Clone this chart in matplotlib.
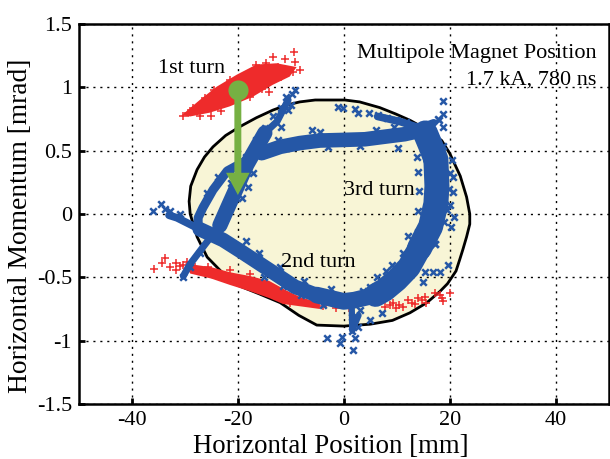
import matplotlib
matplotlib.use("Agg")
import matplotlib.pyplot as plt

plt.rcParams["font.family"] = ["Liberation Serif", "DejaVu Serif"]
plt.rcParams["axes.unicode_minus"] = False

# acceptance contour
contour_x = [-2.6, 0.2, 3.0, 6.8, 9.8, 12.5, 16.0, 18.5, 20.0, 22.0, 23.2, 23.8, 23.8, 23.2, 22.5, 21.9, 21.2, 19.6, 18.2, 15.7,
             12.5, 9.2, 5.0, 0.0, -5.1, -8.5, -12.0, -16.0, -20.2, -23.0, -25.8, -27.7, -29.0, -29.2, -28.9, -27.7,
             -26.3, -24.7, -22.3, -19.6, -16.5, -13.4, -10.8, -8.3, -5.4]
contour_y = [0.90, 0.90, 0.885, 0.84, 0.79, 0.74, 0.66, 0.58, 0.48, 0.30, 0.134, 0.0, -0.08, -0.18, -0.28, -0.36, -0.45, -0.55, -0.61, -0.70,
             -0.78, -0.84, -0.87, -0.885, -0.877, -0.80, -0.70, -0.63, -0.56, -0.46, -0.34, -0.18, 0.0, 0.10, 0.22, 0.35,
             0.45, 0.53, 0.62, 0.69, 0.76, 0.82, 0.86, 0.885, 0.90]

# first turn, dense core and stragglers
red1_core_x = [-30.6, -27.2, -24.0, -20.2, -16.5, -12.7, -8.9, -10.2, -13.4, -17.2, -21.5, -25.3, -29.0]
red1_core_y = [0.78, 0.90, 1.005, 1.10, 1.18, 1.19, 1.16, 1.085, 1.02, 0.925, 0.85, 0.80, 0.77]
red1_x = [-9.4, -13.4, -11.1, -9.2, -8.3, -9.6, -11.8, -14.1, -15.5, -17.7, -23.1, -25.0, -27.2, -30.4, -28.4, -26.2,
          -21.5, -16.5, -14.6, -29.5, -24.5, -12.5]
red1_y = [1.28, 1.24, 1.22, 1.20, 1.14, 1.12, 1.085, 0.966, 0.99, 0.92, 0.81, 0.775, 0.775, 0.775, 0.84, 0.915,
          1.06, 1.18, 1.19, 0.80, 0.98, 1.16]

# second pass red, band along the lower edge
red2_core_x = [-30.0, -25.0, -21.5, -17.7, -14.0, -11.0, -8.0, -4.5, -4.5, -8.0, -11.5, -14.0, -17.7, -21.5, -25.0, -29.0]
red2_core_y = [-0.39, -0.42, -0.46, -0.49, -0.53, -0.60, -0.66, -0.70, -0.75, -0.73, -0.71, -0.665, -0.61, -0.56, -0.51, -0.47]
red2_x = [-35.8, -34.4, -33.8, -32.8, -31.6, -31.6, -30.4, -29.0, -28.1, -25.6, -21.5, -17.7, -10.2, -31.0, -29.6,
          -4.0, -1.5, 1.0, 7.7, 8.7, 9.9, 11.2, 12.2, 13.4, 14.0, 15.3, 15.6, 17.2, 18.5, 18.7, 20.0, 18.1, 9.3, 10.5, 12.8, 14.7]
red2_y = [-0.435, -0.39, -0.345, -0.42, -0.39, -0.44, -0.40, -0.43, -0.42, -0.42, -0.44, -0.47, -0.705, -0.41, -0.38,
          -0.73, -0.74, -0.74, -0.735, -0.72, -0.74, -0.735, -0.68, -0.71, -0.665, -0.655, -0.70, -0.625, -0.665, -0.69, -0.625, -0.64, -0.705, -0.715, -0.70, -0.68]

# blue bands, centre lines of the dense beam
band_top_x = [-10.5, -12.6, -14.9]
band_top_y = [0.90, 0.73, 0.64]
band_a_x = [-14.9, -18.3, -20.2, -21.7, -23.4]
band_a_y = [0.64, 0.39, 0.21, 0.07, -0.09]
band_h_x = [-23.4, -26.2, -29.1, -30.3]
band_h_y = [-0.09, -0.24, -0.40, -0.49]
band_b_x = [-18.5, -22.0, -24.7, -26.6, -27.5, -27.5]
band_b_y = [0.42, 0.34, 0.19, 0.05, -0.03, -0.12]
band_c_x = [-15.5, -12.0, -8.3, -4.5, 0.0, 4.0, 7.7, 11.5, 14.7]
band_c_y = [0.48, 0.53, 0.56, 0.58, 0.585, 0.59, 0.61, 0.63, 0.66]
band_u_x = [6.4, 10.6, 14.3, 17.0]
band_u_y = [0.77, 0.73, 0.68, 0.72]
band_d_x = [15.4, 16.6, 17.4, 17.6, 17.4, 16.4, 14.3]
band_d_y = [0.64, 0.52, 0.43, 0.22, 0.08, -0.10, -0.27]
band_e_x = [14.3, 12.3, 10.0, 7.7, 6.0]
band_e_y = [-0.27, -0.42, -0.52, -0.60, -0.64]
band_f_x = [6.0, 2.0, 0.0, -5.1]
band_f_y = [-0.64, -0.68, -0.69, -0.64]
band_i_x = [-5.1, -9.2, -13.4, -19.6, -22.8, -27.2]
band_i_y = [-0.64, -0.575, -0.46, -0.29, -0.205, -0.12]
band_g_x = [-27.2, -31.5, -33.0]
band_g_y = [-0.12, -0.03, -0.01]
band_s_x = [1.5, 1.6, 2.8]
band_s_y = [-0.72, -0.92, -0.80]

# blue scattered particles read around the bands
blue_x = [-1.1, -0.2, 2.1, 2.7, 4.8, 6.5, 8.1, 9.9, 11.8, 18.8, 18.8, 17.8, 18.8, 18.8, 20.4, 20.6, 20.6, 20.0, 20.9, 19.0,
          17.2, -4.5, 10.2, 19.6, 17.2, 16.8, 18.1, 15.3, 14.9, 4.9, -3.2, -0.4, -0.75, 1.7, 2.1, 1.5, 1.5, 3.0, 2.6, 7.2, 4.9,
          -9.2, -9.8, -11.0, -10.0, -36.0, -34.6, -33.8, -32.8, -31.0,
          -11.8, -13.4, -14.9, -16.5, -18.4, -21.5, -23.8, -25.9, -10.6, -11.8, -12.4, -15.3, -17.2, -18.1, -19.3, -21.2,
          -27.2, -30.4, -29.0, 14.0, 14.3, 14.0, 14.0, 14.0, 20.0, 19.8, 20.3, 13.9, 12.2, 11.2, 9.2, 8.0, 6.2, 3.6, 16.5, 18.0, 19.5,
          -6.0, -3.0, 3.0, 6.0, 9.5, -4.0, -8.0, -11.5, -15.0, -18.5, -18.5, -16.0, -12.0, -7.5, -2.5]
blue_y = [0.845, 0.835, 0.83, 0.80, 0.80, 0.78, 0.76, 0.74, 0.73, 0.89, 0.79, 0.75, 0.69, 0.54, 0.43, 0.29, 0.17, 0.07, -0.02, -0.06,
          -0.24, 0.65, 0.52, -0.40, -0.24, -0.46, -0.46, -0.46, -0.54, -0.58, -0.98, -0.97, -1.02, -1.07, -0.98, -0.81, -0.92, -0.76, -0.89, -0.78, -0.84,
          0.98, 0.95, 0.92, 0.86, 0.02, 0.08, 0.04, 0.02, 0.0,
          0.84, 0.77, 0.68, 0.585, 0.45, 0.35, 0.295, 0.165, 0.82, 0.69, 0.585, 0.48, 0.325, 0.215, 0.125, 0.245,
          -0.31, -0.50, -0.42, 0.33, 0.18, 0.02, -0.14, -0.22, 0.32, 0.20, -0.10, 0.45, -0.17, -0.31, -0.40, -0.45, -0.50, -0.61, 0.60, 0.74, 0.03,
          0.66, 0.53, 0.535, 0.66, 0.69, -0.72, -0.64, -0.57, -0.50, -0.34, -0.21, -0.31, -0.42, -0.53, -0.59]

turn_labels = ["1st turn", "2nd turn", "3rd turn"]
xticks = [-40, -20, 0, 20, 40]
yticks = [-1.5, -1, -0.5, 0, 0.5, 1, 1.5]
yticklabels = ["-1.5", "-1", "-0.5", "0", "0.5", "1", "1.5"]

BLUE = "#2557a6"
RED = "#ee2b2b"
GREEN = "#76b043"

fig = plt.figure(figsize=(6.1, 4.59), dpi=100)
ax = fig.add_axes([79 / 610, 1 - 404 / 459, 529.5 / 610, 380 / 459])

ax.fill(contour_x, contour_y, facecolor="#f8f5d6", edgecolor="black", linewidth=2, zorder=1, joinstyle="round")

ax.grid(True, color="black", linestyle=(0, (1.5, 3.5)), linewidth=1, zorder=2)
ax.set_axisbelow(False)

ax.fill(red1_core_x, red1_core_y, color=RED, linewidth=0, zorder=3)
ax.fill(red2_core_x, red2_core_y, color=RED, linewidth=0, zorder=3)
ax.scatter(red1_x, red1_y, marker="+", s=36, color=RED, linewidths=1.1, zorder=3)
ax.scatter(red2_x, red2_y, marker="+", s=36, color=RED, linewidths=1.1, zorder=3)

# widths follow the beam thickness in the picture
bands = [(band_top_x, band_top_y, 5), (band_a_x, band_a_y, 11), (band_h_x, band_h_y, 5), (band_b_x, band_b_y, 6.5),
         (band_c_x, band_c_y, 10.5), (band_u_x, band_u_y, 5.5), (band_d_x, band_d_y, 18), (band_e_x, band_e_y, 17),
         (band_f_x, band_f_y, 12), (band_i_x, band_i_y, 10.5), (band_g_x, band_g_y, 5.5), (band_s_x, band_s_y, 4.5)]
for bx, by, lw in bands:
    ax.plot(bx, by, color=BLUE, linewidth=lw, solid_capstyle="round", solid_joinstyle="round", zorder=4)
ax.scatter(blue_x, blue_y, marker="x", s=22, color=BLUE, linewidths=1.8, zorder=4)

ax.annotate("", xy=(-20, 0.15), xytext=(-20, 0.98), zorder=5,
            arrowprops=dict(facecolor=GREEN, edgecolor="none", width=5, headwidth=17, headlength=16, shrink=0))
ax.plot([-20], [0.98], "o", color=GREEN, markersize=14.5, markeredgewidth=0, zorder=5)

ax.text(-35.1, 1.11, turn_labels[0], fontsize=16, zorder=6)
ax.text(-11.9, -0.42, turn_labels[1], fontsize=16, zorder=6)
ax.text(0, 0.15, turn_labels[2], fontsize=16, zorder=6)
ax.text(47.8, 1.23, "Multipole Magnet Position", fontsize=16, ha="right", zorder=6)
ax.text(47.8, 1.02, "1.7 kA, 780 ns", fontsize=16, ha="right", zorder=6)

ax.set_xlim(-50, 50)
ax.set_ylim(-1.5, 1.5)
ax.set_xticks(xticks)
ax.set_yticks(yticks)
ax.set_yticklabels(yticklabels)
ax.tick_params(direction="in", length=4, width=2, labelsize=16, pad=5)
for s in ax.spines.values():
    s.set_linewidth(1.8)
ax.set_xlabel("Horizontal Position [mm]", fontsize=19.3)
ax.set_ylabel("Horizontal Momentum [mrad]", fontsize=19.8)
ax.xaxis.set_label_coords(0.475, -0.08)
ax.yaxis.set_label_coords(-0.087, 0.47)

fig.savefig("out.png", dpi=100)
